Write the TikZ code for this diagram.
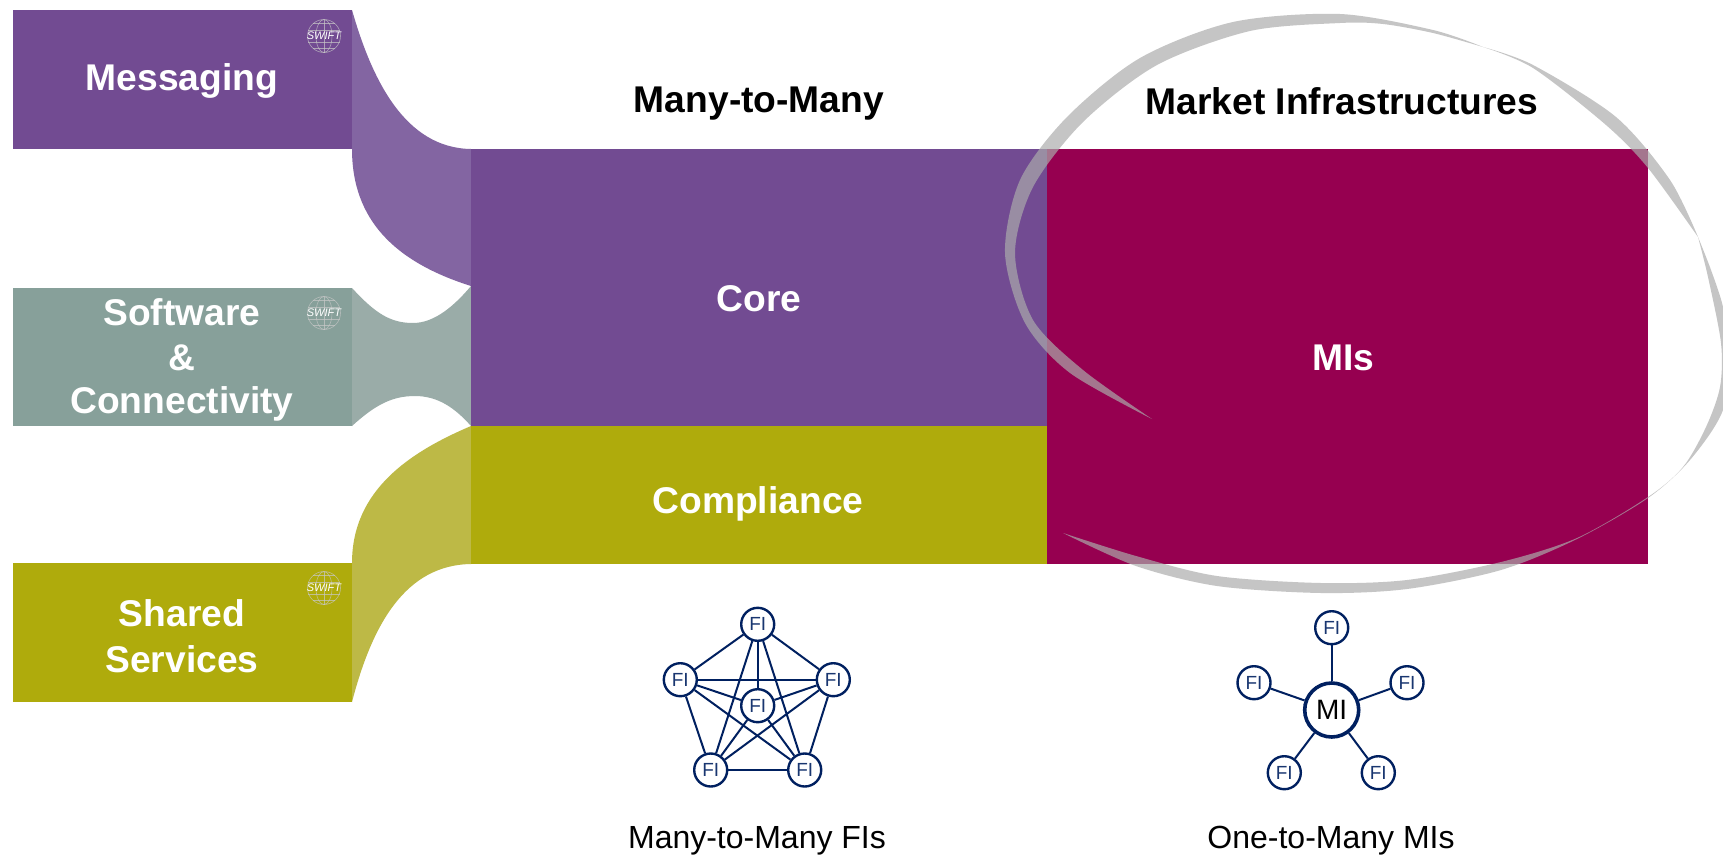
\documentclass[tikz,border=0pt]{standalone}
\usepackage{fontspec}
\setmainfont{Liberation Sans}
\definecolor{cPurple}{HTML}{724B92}
\definecolor{cPurpleL}{HTML}{8365A2}
\definecolor{cTeal}{HTML}{87A09A}
\definecolor{cTealL}{HTML}{9AACA8}
\definecolor{cOlive}{HTML}{AFAB0C}
\definecolor{cOliveL}{HTML}{BDB946}
\definecolor{cMaroon}{HTML}{960050}
\definecolor{cNavy}{HTML}{002060}
\definecolor{cLogo}{HTML}{C8C8C8}
\newcommand{\pxfont}[1]{\fontsize{#1}{#1}\selectfont}
\tikzset{
  block/.style={fill=#1,draw=none,inner sep=0pt,outer sep=0pt,anchor=north west},
  big/.style={font=\pxfont{37.2}\bfseries,text=white,align=center,inner sep=0pt},
  head/.style={font=\pxfont{37.2}\bfseries,text=black,inner sep=0pt},
  caption/.style={font=\pxfont{32},text=black,inner sep=0pt},
  fi/.style={circle,draw=cNavy,line width=2.4pt,fill=white,minimum size=33pt,inner sep=0pt,font=\pxfont{19},text=cNavy!90!white},
  mi/.style={circle,draw=cNavy,line width=3.6pt,fill=white,minimum size=54pt,inner sep=0pt,font=\pxfont{28},text=black},
  link/.style={draw=cNavy,line width=2pt},
  logoline/.style={draw=cLogo,line width=.6pt,opacity=.7}
}
\newcommand{\swiftlogo}[2]{%
  \begin{scope}[shift={(#1,#2)}]
    \draw[logoline] (0,0) circle (16.5);
    \draw[logoline] (0,0) ellipse (8 and 16.5);
    \draw[logoline] (0,-16.5) -- (0,16.5);
    \draw[logoline] (-11,-12.3) -- (11,-12.3) (-16,-6) -- (16,-6) (-16,6) -- (16,6) (-11,12.3) -- (11,12.3);
    \node[inner sep=0pt,text=white,font=\pxfont{11}\itshape] at (0,0) {SWIFT};
  \end{scope}}
\begin{document}
\begin{tikzpicture}[x=1pt,y=-1pt]
\useasboundingbox (0,0) rectangle (1723,854);
\clip (0,0) rectangle (1723,854);
\fill[white] (0,0) rectangle (1723,854);
% flows
\fill[cPurpleL] (352,10) .. controls (372,80) and (405,148) .. (471,149) -- (471,286) .. controls (395,262) and (352,220) .. (352,149) -- cycle;
\fill[cTealL] (352,288) .. controls (375,313) and (390,323) .. (413,323) .. controls (435,323) and (455,305) .. (471,286) -- (471,426) .. controls (455,408) and (438,396) .. (415,396) .. controls (392,396) and (375,405) .. (352,426) -- cycle;
\fill[cOliveL] (352,563) .. controls (352,490) and (410,452) .. (471,426) -- (471,564) .. controls (405,565) and (372,625) .. (352,702) -- cycle;
% left boxes
\node[block=cPurple,minimum width=339pt,minimum height=139pt] (msgbox) at (13,10) {};
\node[block=cTeal,minimum width=339pt,minimum height=138pt] (swbox) at (13,288) {};
\node[block=cOlive,minimum width=339pt,minimum height=139pt] (shbox) at (13,563) {};
% main boxes
\node[block=cPurple,minimum width=576pt,minimum height=277pt] (core) at (471,149) {};
\node[block=cOlive,minimum width=576pt,minimum height=138pt] (comp) at (471,426) {};
\node[block=cMaroon,minimum width=601pt,minimum height=415pt] (mis) at (1047,149) {};
% hand-drawn ring: three lobes meeting at sharp pinches
\fill[color=black!33,opacity=.69]
  plot[smooth] coordinates {(1152,419) (1070,373) (1025,323) (1005,253) (1020,180) (1067,117) (1140,58) (1233,22) (1340,14) (1433,30) (1483,47)}
  -- plot[smooth] coordinates {(1483,47) (1433,33) (1383,24) (1340,23) (1250,31) (1157,65) (1083,122) (1033,187) (1015,253) (1033,320) (1083,370) (1152,419)} -- cycle
  plot[smooth] coordinates {(1483,47) (1533,65) (1616,117) (1670,180) (1698,237)}
  -- plot[smooth] coordinates {(1698,237) (1648,168) (1606,125) (1533,68) (1483,47)} -- cycle
  plot[smooth] coordinates {(1698,237) (1711,270) (1723,307) (1729,350) (1723,410) (1690,460) (1648,498) (1577,539) (1501,570) (1407,589) (1321,593) (1217,586) (1136,566) (1063,533)}
  -- plot[smooth] coordinates {(1063,533) (1136,556) (1217,576) (1321,583) (1407,580) (1501,562) (1577,538) (1648,497) (1683,467) (1706,427) (1720,387) (1721,343) (1708,277) (1698,237)} -- cycle;
% logos
\swiftlogo{324}{36}
\swiftlogo{324}{313}
\swiftlogo{324}{588}
% labels
\node[big] (msg) at (182,81) {Messaging};
\node[big] (sw1) at (182,312) {Software};
\node[big] (sw2) at (182,358) {\&};
\node[big] (sw3) at (182,404) {Connectivity};
\node[big] (sh1) at (182,613) {Shared};
\node[big] (sh2) at (182,659) {Services};
\node[big] (corel) at (759,299) {Core};
\node[big] (compl) at (758,504) {Compliance};
\node[big] (misl) at (1343,358) {MIs};
\node[head] (h1) at (759,104) {Many-to-Many};
\node[head] (h2) at (1342,101) {Market Infrastructures};
\node[caption] (c1) at (757,841) {Many-to-Many FIs};
\node[caption] (c2) at (1331,841) {One-to-Many MIs};
% many-to-many network
\node[fi] (a1) at (757.7,624.3) {FI};
\node[fi] (a2) at (680.3,679.7) {FI};
\node[fi] (a3) at (833.3,679.7) {FI};
\node[fi] (a4) at (710.7,770) {FI};
\node[fi] (a5) at (804.7,770) {FI};
\node[fi] (a0) at (757.7,705.7) {FI};
\foreach \p/\q in {a1/a2,a1/a3,a1/a4,a1/a5,a1/a0,a2/a3,a2/a4,a2/a5,a2/a0,a3/a4,a3/a5,a3/a0,a4/a5,a4/a0,a5/a0}
  \draw[link] (\p) -- (\q);
% one-to-many network
\node[mi] (m0) at (1331.7,710) {MI};
\node[fi] (m1) at (1331.7,627.7) {FI};
\node[fi] (m2) at (1254,682.7) {FI};
\node[fi] (m3) at (1407,682.7) {FI};
\node[fi] (m4) at (1284.3,772.7) {FI};
\node[fi] (m5) at (1378.3,772.7) {FI};
\foreach \q in {m1,m2,m3,m4,m5}
  \draw[link] (m0) -- (\q);
\end{tikzpicture}
\end{document}
